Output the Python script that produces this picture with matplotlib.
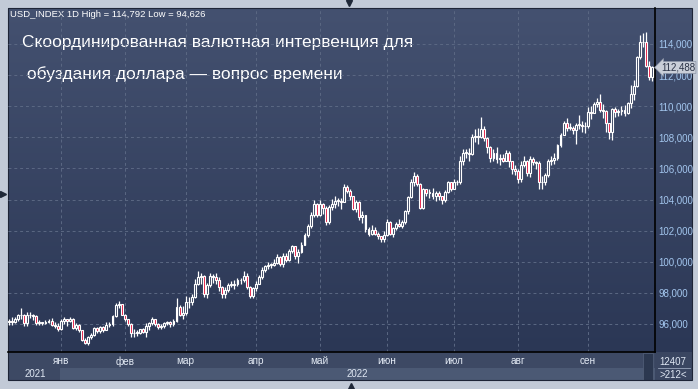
import numpy as np
import matplotlib.pyplot as plt
from matplotlib.colors import LinearSegmentedColormap
from matplotlib.transforms import blended_transform_factory

plt.rcParams['font.family'] = ['Liberation Sans', 'DejaVu Sans']

# daily USD index candles, 9 Dec 2021 - 30 Sep 2022
closes = [
    96.20, 96.10, 96.30, 96.55, 96.60, 96.05, 96.60, 96.55, 96.50, 96.05, 96.10, 96.05, 96.15, 96.20, 95.95, 95.90, 95.70,  # dec
    96.20, 96.30, 96.20, 96.35, 95.75, 95.95, 95.60, 94.95, 94.80, 95.15, 95.30, 95.75, 95.55, 95.80, 95.60, 95.95, 96.00, 96.50, 97.25, 97.30, 96.60,  # jan
    96.30, 96.00, 95.40, 95.45, 95.45, 95.65, 95.50, 95.85, 96.05, 96.35, 96.00, 95.80, 95.85, 96.05, 96.10, 96.00, 96.20, 97.10, 96.60, 96.70,  # feb
    97.40, 97.40, 97.75, 98.60, 99.00, 99.10, 97.95, 98.50, 99.10, 99.00, 98.85, 98.40, 97.90, 98.20, 98.50, 98.50, 98.60, 98.80, 98.80, 99.10, 98.40, 97.80, 98.30,  # mar
    98.60, 99.00, 99.50, 99.75, 99.80, 99.80, 99.95, 100.30, 99.85, 100.35, 100.10, 100.70, 101.00, 100.40, 100.60, 101.10, 101.70, 102.30, 103.00, 103.70, 103.00,  # apr
    103.70, 103.45, 102.55, 103.55, 103.70, 103.90, 103.90, 103.85, 104.80, 104.55, 104.20, 103.40, 103.85, 102.85, 103.00, 102.10, 101.80, 102.05, 101.80, 101.65, 101.45, 101.75,  # may
    102.55, 101.80, 102.15, 102.40, 102.30, 102.55, 103.25, 104.15, 105.10, 105.50, 105.00, 103.45, 104.65, 104.45, 104.45, 104.20, 104.40, 104.20, 103.95, 104.50, 105.10, 104.70,  # jun
    105.10, 105.15, 106.50, 107.00, 107.00, 106.90, 108.05, 108.10, 108.00, 108.55, 107.95, 107.35, 106.65, 107.00, 106.60, 106.70, 106.50, 107.00, 106.45, 105.95, 105.85,  # jul
    105.35, 106.25, 106.50, 105.70, 106.60, 106.40, 106.35, 105.15, 105.10, 105.60, 106.50, 106.55, 106.70, 107.50, 108.15, 108.90, 108.60, 108.60, 108.45, 108.80, 108.80, 108.75, 108.70,  # aug
    109.65, 109.55, 110.15, 110.25, 109.75, 109.70, 108.95, 108.35, 109.80, 109.60, 109.70, 109.75, 109.55, 110.20, 110.80, 111.30, 113.15, 114.10, 114.15, 112.60, 111.90, 112.488,  # sep
]
highs = [
    96.35, 96.45, 96.45, 96.65, 97.00, 96.65, 96.75, 96.80, 96.65, 96.55, 96.25, 96.15, 96.25, 96.35, 96.40, 96.10, 96.05,
    96.30, 96.45, 96.35, 96.45, 96.40, 96.05, 96.00, 95.60, 95.10, 95.25, 95.40, 95.80, 95.80, 95.85, 95.90, 96.15, 96.10, 96.60, 97.35, 97.45, 97.30,
    96.65, 96.35, 96.05, 95.70, 95.60, 95.70, 95.75, 96.05, 96.15, 96.45, 96.35, 96.05, 96.00, 96.15, 96.20, 96.20, 96.35, 97.70, 97.25, 97.15,
    97.80, 97.75, 97.90, 98.90, 99.40, 99.30, 99.15, 98.65, 99.25, 99.20, 99.25, 99.05, 98.45, 98.35, 98.65, 98.75, 98.80, 98.95, 98.95, 99.40, 99.25, 98.45, 98.40,
    98.75, 99.15, 99.65, 99.80, 100.00, 99.95, 100.20, 100.50, 100.40, 100.55, 100.55, 100.85, 101.05, 101.00, 100.80, 101.30, 101.85, 102.40, 103.20, 103.95, 103.80,
    103.95, 103.75, 103.60, 103.65, 104.05, 104.20, 104.10, 104.10, 105.00, 104.95, 104.65, 104.20, 103.95, 103.90, 103.25, 103.00, 102.25, 102.35, 102.25, 101.90, 101.65, 101.95,
    102.75, 102.65, 102.25, 102.55, 102.75, 102.70, 103.35, 104.25, 105.30, 105.79, 105.65, 105.05, 104.75, 104.70, 104.65, 104.75, 104.55, 104.55, 104.25, 104.60, 105.20, 105.15,
    105.35, 105.25, 106.80, 107.25, 107.25, 107.30, 108.20, 108.55, 108.60, 109.29, 108.75, 108.05, 107.45, 107.25, 107.40, 106.95, 106.90, 107.20, 107.15, 106.50, 106.25,
    105.95, 106.45, 106.80, 106.55, 106.80, 106.75, 106.50, 106.45, 105.50, 105.70, 106.60, 106.80, 107.00, 107.60, 108.25, 109.05, 109.25, 108.90, 108.75, 108.95, 109.45, 109.05, 109.00,
    109.95, 110.00, 110.25, 110.55, 110.79, 110.15, 109.75, 108.95, 109.90, 109.95, 109.85, 110.00, 110.05, 110.30, 111.35, 111.70, 113.25, 114.55, 114.70, 114.792, 112.90, 112.60,
]
lows = [
    95.95, 95.95, 96.05, 96.20, 96.30, 95.85, 95.90, 96.40, 96.25, 95.95, 95.95, 95.95, 96.00, 96.05, 95.85, 95.75, 95.55,
    95.60, 96.00, 95.90, 96.10, 95.65, 95.60, 95.50, 94.90, 94.70, 94.626, 95.05, 95.25, 95.40, 95.40, 95.50, 95.60, 95.80, 95.90, 96.45, 97.00, 96.55,
    96.20, 95.90, 95.15, 95.15, 95.25, 95.35, 95.40, 95.15, 95.60, 95.95, 95.90, 95.70, 95.70, 95.75, 95.95, 95.80, 95.90, 96.15, 96.50, 96.30,
    96.60, 97.05, 97.25, 97.70, 98.50, 98.60, 97.75, 97.70, 98.40, 98.65, 98.60, 98.10, 97.70, 97.70, 98.05, 98.35, 98.25, 98.45, 98.60, 98.70, 98.25, 97.70, 97.70,
    98.10, 98.55, 98.90, 99.35, 99.55, 99.60, 99.70, 99.85, 99.70, 99.65, 100.00, 100.05, 100.55, 100.20, 99.90, 100.55, 101.05, 101.60, 102.20, 102.90, 102.90,
    102.95, 103.10, 102.35, 102.45, 103.35, 103.45, 103.60, 103.40, 103.85, 104.40, 104.00, 103.30, 103.20, 102.70, 102.50, 101.90, 101.65, 101.70, 101.70, 101.45, 101.30, 101.30,
    101.65, 101.70, 101.60, 102.05, 102.25, 102.15, 102.40, 103.10, 104.10, 104.90, 104.85, 103.40, 103.40, 104.20, 104.10, 104.05, 103.90, 104.00, 103.70, 103.85, 104.40, 104.55,
    104.65, 104.95, 105.00, 106.20, 106.70, 106.50, 106.85, 107.70, 107.55, 107.95, 107.75, 107.00, 106.40, 106.45, 106.35, 106.20, 106.40, 106.45, 106.10, 105.65, 105.55,
    105.05, 105.10, 106.10, 105.50, 105.45, 106.20, 105.95, 104.65, 104.65, 104.95, 105.45, 106.20, 106.30, 106.55, 107.40, 108.15, 108.40, 108.45, 108.20, 107.60, 108.55, 108.35, 108.30,
    108.60, 109.15, 109.55, 109.95, 109.60, 109.25, 108.35, 107.87, 107.80, 109.30, 109.35, 109.45, 109.35, 109.50, 109.90, 110.40, 111.25, 113.00, 113.80, 112.55, 111.70, 111.60,
]
first_open = 96.10
opens = [first_open] + closes[:-1]  # each day opens at the previous close

month_names = ['янв', 'фев', 'мар', 'апр', 'май', 'июн', 'июл', 'авг', 'сен']
month_counts = [17, 21, 20, 23, 21, 22, 22, 21, 23, 22]  # candles per month, dec..sep
price_ticks = [96, 98, 100, 102, 104, 106, 108, 110, 112, 114]
year_labels = ['2021', '2022']
title_lines = ['Скоординированная валютная интервенция для',
               ' обуздания доллара — вопрос времени']


def fmt(v):
    return f'{v:.3f}'.replace('.', ',')


W, H = 698, 389
fig = plt.figure(figsize=(W / 100, H / 100), dpi=100)
fig.patch.set_facecolor('#c2cad7')

# pixel-space layer for the terminal frame
bg = fig.add_axes([0, 0, 1, 1])
bg.set_xlim(0, W)
bg.set_ylim(H, 0)
bg.axis('off')

grad = np.linspace(0, 1, 256).reshape(-1, 1)
cmap = LinearSegmentedColormap.from_list('panel', ['#445170', '#2b3755'])
bg.imshow(grad, extent=(8, 692, 352, 8), aspect='auto', cmap=cmap, zorder=0)

# bottom time bands
bg.add_patch(plt.Rectangle((8, 352), 684, 16, fc='#3d4964', ec='none', zorder=1))
bg.add_patch(plt.Rectangle((8, 368), 647, 12, fc='#4b5974', ec='none', zorder=1))
bg.add_patch(plt.Rectangle((8, 368), 52, 12, fc='#3d4964', ec='none', zorder=1))
bg.add_patch(plt.Rectangle((643, 353), 10, 27, fc='#2c3850', ec='#55627c', lw=0.5, zorder=2))
bg.add_patch(plt.Rectangle((655, 352), 37, 28, fc='#3a4661', ec='none', zorder=1))
bg.plot([658, 690], [368, 368], color='#9aa6bc', lw=0.6, zorder=2)
bg.text(673, 362, '12407', color='#dfe7f3', fontsize=7, ha='center', va='center', zorder=3)
bg.text(673, 375, f'>{len(closes)}<', color='#dfe7f3', fontsize=7, ha='center', va='center', zorder=3)
bg.text(35, 374, year_labels[0], color='#dfe7f3', fontsize=7, ha='center', va='center', zorder=3)
bg.text(357, 374, year_labels[1], color='#dfe7f3', fontsize=7, ha='center', va='center', zorder=3)
bg.add_patch(plt.Rectangle((8, 8), 684, 372, fc='none', ec='#1d2436', lw=0.8, zorder=4))

# little scroll arrows of the terminal window
bg.plot([349], [2.5], marker='v', ms=4, color='#1f2838', zorder=5)
bg.plot([351], [385.5], marker='^', ms=4, color='#1f2838', zorder=5)
bg.plot([3], [194], marker='>', ms=4, color='#1f2838', zorder=5)

# header and headline
bg.text(10, 14, f'USD_INDEX 1D High = {fmt(max(highs))} Low = {fmt(min(lows))}',
        color='white', fontsize=6.8, va='center', zorder=5)
bg.text(22, 42, title_lines[0], color='white', fontsize=12.5, va='center', zorder=5)
bg.text(22, 74, title_lines[1], color='white', fontsize=12.5, va='center', zorder=5)

# price chart
ax = fig.add_axes([8 / W, (H - 352) / H, 647 / W, 344 / H])
ax.patch.set_alpha(0)
x = np.arange(len(closes))
o = np.array(opens)
c = np.array(closes)
down = c < o
body_low = np.minimum(o, c)
body_h = np.maximum(np.abs(c - o), 0.04)
ax.vlines(x, lows, highs, color='white', lw=0.9, zorder=2)
ax.bar(x, body_h, bottom=body_low, width=0.62,
       color=np.where(down, '#e3173f', '#36425e'), edgecolor='white', linewidth=0.8, zorder=3)

ax.set_xlim(-0.3, 212.0)
ax.set_ylim(94.2, 116.31)

month_starts = np.cumsum(month_counts)[:-1]
ax.set_xticks(month_starts)
ax.set_xticklabels(month_names)
ax.set_yticks(price_ticks)
ax.set_yticklabels([fmt(v) for v in price_ticks])
ax.yaxis.tick_right()
ax.tick_params(axis='y', length=0, pad=2.5, labelsize=7, labelcolor='#a3c6ee')
ax.tick_params(axis='x', length=0, pad=3, labelsize=7.2, labelcolor='#e4ebf5')
ax.grid(True, color='#5b6883', ls=(0, (3, 3)), lw=0.7, zorder=1)
for side in ['top', 'left']:
    ax.spines[side].set_visible(False)
ax.spines['right'].set_color('black')
ax.spines['right'].set_linewidth(1.2)
ax.spines['bottom'].set_color('black')
ax.spines['bottom'].set_linewidth(1.2)

# last price tag
tr = blended_transform_factory(ax.transAxes, ax.transData)
ax.text(1.009, closes[-1], fmt(closes[-1]), transform=tr, fontsize=7, color='#2a3246',
        va='center', ha='left', clip_on=False, zorder=6,
        bbox=dict(boxstyle='larrow,pad=0.1', fc='#c9ced8', ec='#8a93a6', lw=0.5))

fig.savefig('out.png', dpi=100, facecolor=fig.get_facecolor())
